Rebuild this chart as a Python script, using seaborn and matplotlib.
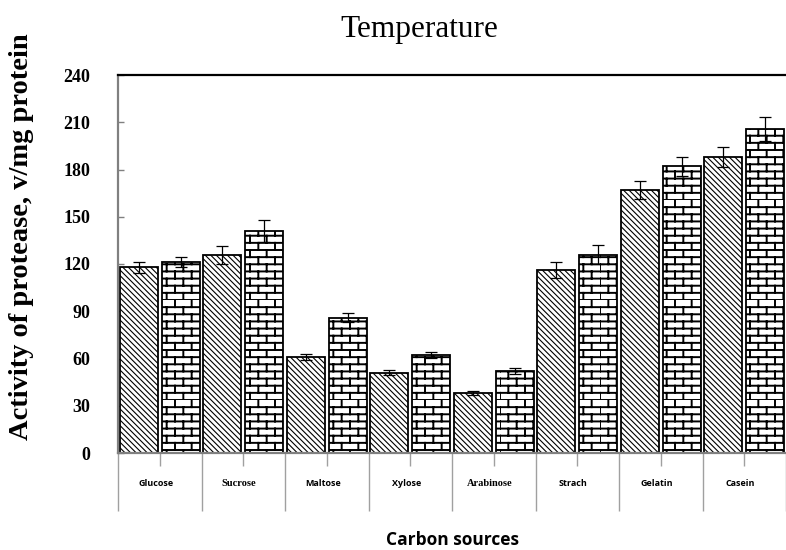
import warnings
warnings.filterwarnings("ignore")
import numpy as np
import pandas as pd
import matplotlib
matplotlib.use("Agg")
import matplotlib.pyplot as plt
import matplotlib.hatch as mhatch
import matplotlib.transforms as mtrans
from matplotlib.path import Path
import seaborn as sns

# ---------------- data ----------------
categories = ["Glucose", "Sucrose", "Maltose", "Xylose", "Arabinose", "Strach", "Gelatin", "Casein"]
series_names = ["Series A", "Series B"]
values_a = [118, 126, 61, 51, 38, 116, 167, 188]
errors_a = [3.4, 5.7, 2.1, 1.5, 1.3, 5.0, 5.5, 6.3]
values_b = [121, 141, 86, 62, 52, 126, 182, 206]
errors_b = [3.2, 7.0, 2.8, 1.9, 1.9, 6.3, 5.9, 7.6]
y_ticks = [0, 30, 60, 90, 120, 150, 180, 210, 240]
serif_labels = ["Sucrose", "Arabinose"]


# ---------------- custom brick hatch ----------------
class BrickHatch(mhatch.HatchPatternBase):
    def __init__(self, hatch, density):
        n = hatch.count('b')
        self.rows = 14 * n
        self.cols = 6
        self.num_vertices = self.rows * (2 + 2 * self.cols) if n else 0

    def set_vertices_and_codes(self, vertices, codes):
        k = 0
        for i in range(self.rows):
            y0 = i / self.rows
            y1 = (i + 1) / self.rows
            vertices[k] = (0.0, y0); codes[k] = Path.MOVETO; k += 1
            vertices[k] = (1.0, y0); codes[k] = Path.LINETO; k += 1
            off = 0.5 * (i % 2)
            for j in range(self.cols):
                x = (j + off) / self.cols
                vertices[k] = (x, y0); codes[k] = Path.MOVETO; k += 1
                vertices[k] = (x, y1); codes[k] = Path.LINETO; k += 1


mhatch._hatch_types.append(BrickHatch)

# ---------------- figure ----------------
sns.set_theme(style="white")
plt.rcParams.update({
    "hatch.linewidth": 1.2,
    "text.color": "black",
    "axes.labelcolor": "black",
    "xtick.color": "black",
    "ytick.color": "black",
})

df = pd.DataFrame({
    "Carbon": categories * 2,
    "Series": [series_names[0]] * len(categories) + [series_names[1]] * len(categories),
    "Value": values_a + values_b,
})

fig = plt.figure(figsize=(7.86, 5.5), dpi=100)
ax = fig.add_axes([118 / 786, 1 - 453 / 550, 668 / 786, 378 / 550])

sns.barplot(data=df, x="Carbon", y="Value", hue="Series", order=categories,
            hue_order=series_names, palette=["white", "white"], width=1.0, gap=0.09,
            edgecolor="black", linewidth=1.3, errorbar=None, legend=False, ax=ax)

hatches = ["\\" * 6, "b"]
hatch_lw = [0.8, 1.4]
errs = [errors_a, errors_b]
vals = [values_a, values_b]
bar_containers = list(ax.containers)
for ci, cont in enumerate(bar_containers):
    xs = []
    for p in cont.patches:
        p.set_hatch(hatches[ci])
        p.set_edgecolor("black")
        p.set_facecolor("white")
        if hasattr(p, "set_hatch_linewidth"):
            p.set_hatch_linewidth(hatch_lw[ci])
        xs.append(p.get_x() + p.get_width() / 2)
    ax.errorbar(xs, vals[ci], yerr=errs[ci], fmt="none", ecolor="black",
                elinewidth=0.9, capsize=4, capthick=0.9, zorder=5)

ax.set_ylim(0, 240)
ax.set_xlim(-0.5, len(categories) - 0.5)
ax.set_yticks(y_ticks)
ax.set_yticklabels([str(v) for v in y_ticks], fontfamily="Liberation Serif",
                   fontweight="bold", fontsize=13, color="black")
ax.tick_params(axis="y", direction="in", length=4, width=1, color="#808080",
               pad=20, left=True, labelcolor="black")

# x ticks: centres short, group boundaries long
ax.set_xticks(np.arange(len(categories)))
ax.set_xticks(np.arange(len(categories) + 1) - 0.5, minor=True)
ax.tick_params(axis="x", which="major", direction="out", length=9.5, width=1,
               color="#a0a0a0", pad=9.5, bottom=True, labelcolor="black")
ax.tick_params(axis="x", which="minor", direction="out", length=42, width=1,
               color="#a0a0a0", bottom=True)
ax.set_xticklabels(categories)
shift = mtrans.ScaledTranslation(-4 / 100, 0, fig.dpi_scale_trans)
for lab in ax.get_xticklabels():
    if lab.get_text() in serif_labels:
        lab.set_fontfamily("Liberation Serif")
        lab.set_fontsize(7.5)
    else:
        lab.set_fontfamily("Open Sans")
        lab.set_fontsize(6.5)
    lab.set_fontweight("bold")
    lab.set_color("black")
    lab.set_transform(lab.get_transform() + shift)

ax.set_xlabel("")
ax.set_ylabel("")

for s in ["left", "bottom"]:
    ax.spines[s].set_color("#808080")
    ax.spines[s].set_linewidth(1.6)
ax.spines["top"].set_color("black")
ax.spines["top"].set_linewidth(1.6)
ax.spines["right"].set_visible(False)
ax.grid(False)

fig.text(419 / 786, 1 - 30 / 550, "Temperature", ha="center", va="center",
         fontfamily="Liberation Serif", fontsize=22.5, color="black")
fig.text(22 / 786, 1 - 237 / 550, "Activity of protease, v/mg protein",
         rotation=90, ha="center", va="center", fontfamily="Liberation Serif",
         fontweight="bold", fontsize=20.5, color="black")
fig.text(452 / 786, 1 - 540 / 550, "Carbon sources", ha="center", va="center",
         fontfamily="Open Sans", fontweight="bold", fontsize=12.5, color="black")

fig.savefig("out.png", dpi=100)
